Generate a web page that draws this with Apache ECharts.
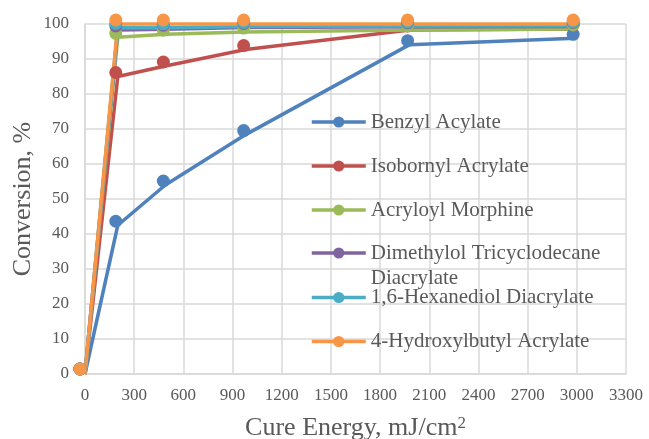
<!DOCTYPE html>
<html>
<head>
<meta charset="utf-8">
<script src="https://cdn.jsdelivr.net/npm/echarts@6/dist/echarts.min.js"></script>
<style>
html,body{margin:0;padding:0;background:#fff;}
#chart{width:649px;height:439px;}
</style>
</head>
<body>
<div id="chart"></div>
<script>
// Data
const cureEnergy = [0, 200, 490, 980, 1980, 2990];
const seriesNames = [
  'Benzyl Acylate',
  'Isobornyl Acrylate',
  'Acryloyl Morphine',
  'Dimethylol Tricyclodecane Diacrylate',
  '1,6-Hexanediol Diacrylate',
  '4-Hydroxylbutyl Acrylate'
];
const benzyl = [0, 42.5, 54, 68.4, 94.1, 95.9];
const isobornyl = [0, 85, 88, 92.7, 98.3, 98.6];
const acryloyl = [0, 96.2, 97.1, 97.7, 98.3, 98.6];
const dimethylol = [0, 98.3, 98.5, 99.0, 99.2, 99.3];
const hexanediol = [0, 99.0, 98.9, 99.3, 99.4, 99.5];
const hydroxybutyl = [0, 100, 100, 100, 100, 100];
const xTicks = {min: 0, max: 3300, interval: 300};
const yTicks = {min: 0, max: 100, interval: 10};

const allValues = [benzyl, isobornyl, acryloyl, dimethylol, hexanediol, hydroxybutyl];
const colors = ['#4F81BD', '#C0504D', '#9BBB59', '#8064A2', '#4BACC6', '#F79646'];
const font = 'Liberation Serif, Times New Roman, serif';
const txt = '#595959';

const chart = echarts.init(document.getElementById('chart'), null, {renderer: 'canvas'});

const series = seriesNames.map((name, i) => ({
  name: name,
  type: 'line',
  clip: false,
  symbol: 'circle',
  symbolSize: 13,
  symbolOffset: [-2, -4],
  showAllSymbol: true,
  lineStyle: {width: 3.5, color: colors[i]},
  itemStyle: {color: colors[i]},
  emphasis: {disabled: true},
  data: cureEnergy.map((x, k) => k === 0
    ? {value: [x, allValues[i][k]], symbolOffset: [-5, -5]}
    : [x, allValues[i][k]])
}));

const legendBase = {
  orient: 'vertical',
  left: 310,
  padding: 0,
  itemWidth: 54,
  itemHeight: 14,
  itemGap: 19,
  lineStyle: {width: 3.5},
  textStyle: {fontFamily: font, fontSize: 21, color: txt, lineHeight: 25, width: 240, overflow: 'break'}
};

chart.setOption({
  animation: false,
  backgroundColor: '#fff',
  color: colors,
  grid: {left: 85, right: 23, top: 24, bottom: 65, containLabel: false, outerBoundsMode: 'none'},
  legend: [
    Object.assign({}, legendBase, {top: 109.5, data: seriesNames.slice(0, 3)}),
    Object.assign({}, legendBase, {top: 215.5, data: seriesNames.slice(3, 4),
      formatter: function (n) { return '\n' + n; }}),
    Object.assign({}, legendBase, {top: 285, data: seriesNames.slice(4, 6)})
  ],
  xAxis: {
    type: 'value',
    min: xTicks.min, max: xTicks.max, interval: xTicks.interval,
    name: 'Cure Energy, mJ/cm{sup|2}',
    nameLocation: 'middle',
    nameGap: 41,
    nameMoveOverlap: false,
    nameTextStyle: {fontFamily: font, fontSize: 26, color: txt,
      rich: {sup: {fontFamily: font, fontSize: 17, color: txt, verticalAlign: 'top', padding: [0, 0, 10, 0]}}},
    axisLine: {show: true, lineStyle: {color: '#D9D9D9', width: 1.5}},
    axisTick: {show: false},
    axisLabel: {fontFamily: font, fontSize: 17, color: txt, margin: 13,
      formatter: function (v) { return String(v); }},
    splitLine: {show: true, lineStyle: {color: '#D9D9D9', width: 1.5}}
  },
  yAxis: {
    type: 'value',
    min: yTicks.min, max: yTicks.max, interval: yTicks.interval,
    name: 'Conversion, %',
    nameLocation: 'middle',
    nameGap: 49,
    nameMoveOverlap: false,
    nameTextStyle: {fontFamily: font, fontSize: 26, color: txt},
    axisLine: {show: true, lineStyle: {color: '#D9D9D9', width: 1.5}},
    axisTick: {show: false},
    axisLabel: {fontFamily: font, fontSize: 17, color: txt, margin: 16},
    splitLine: {show: true, lineStyle: {color: '#D9D9D9', width: 1.5}}
  },
  series: series
});
</script>
</body>
</html>
